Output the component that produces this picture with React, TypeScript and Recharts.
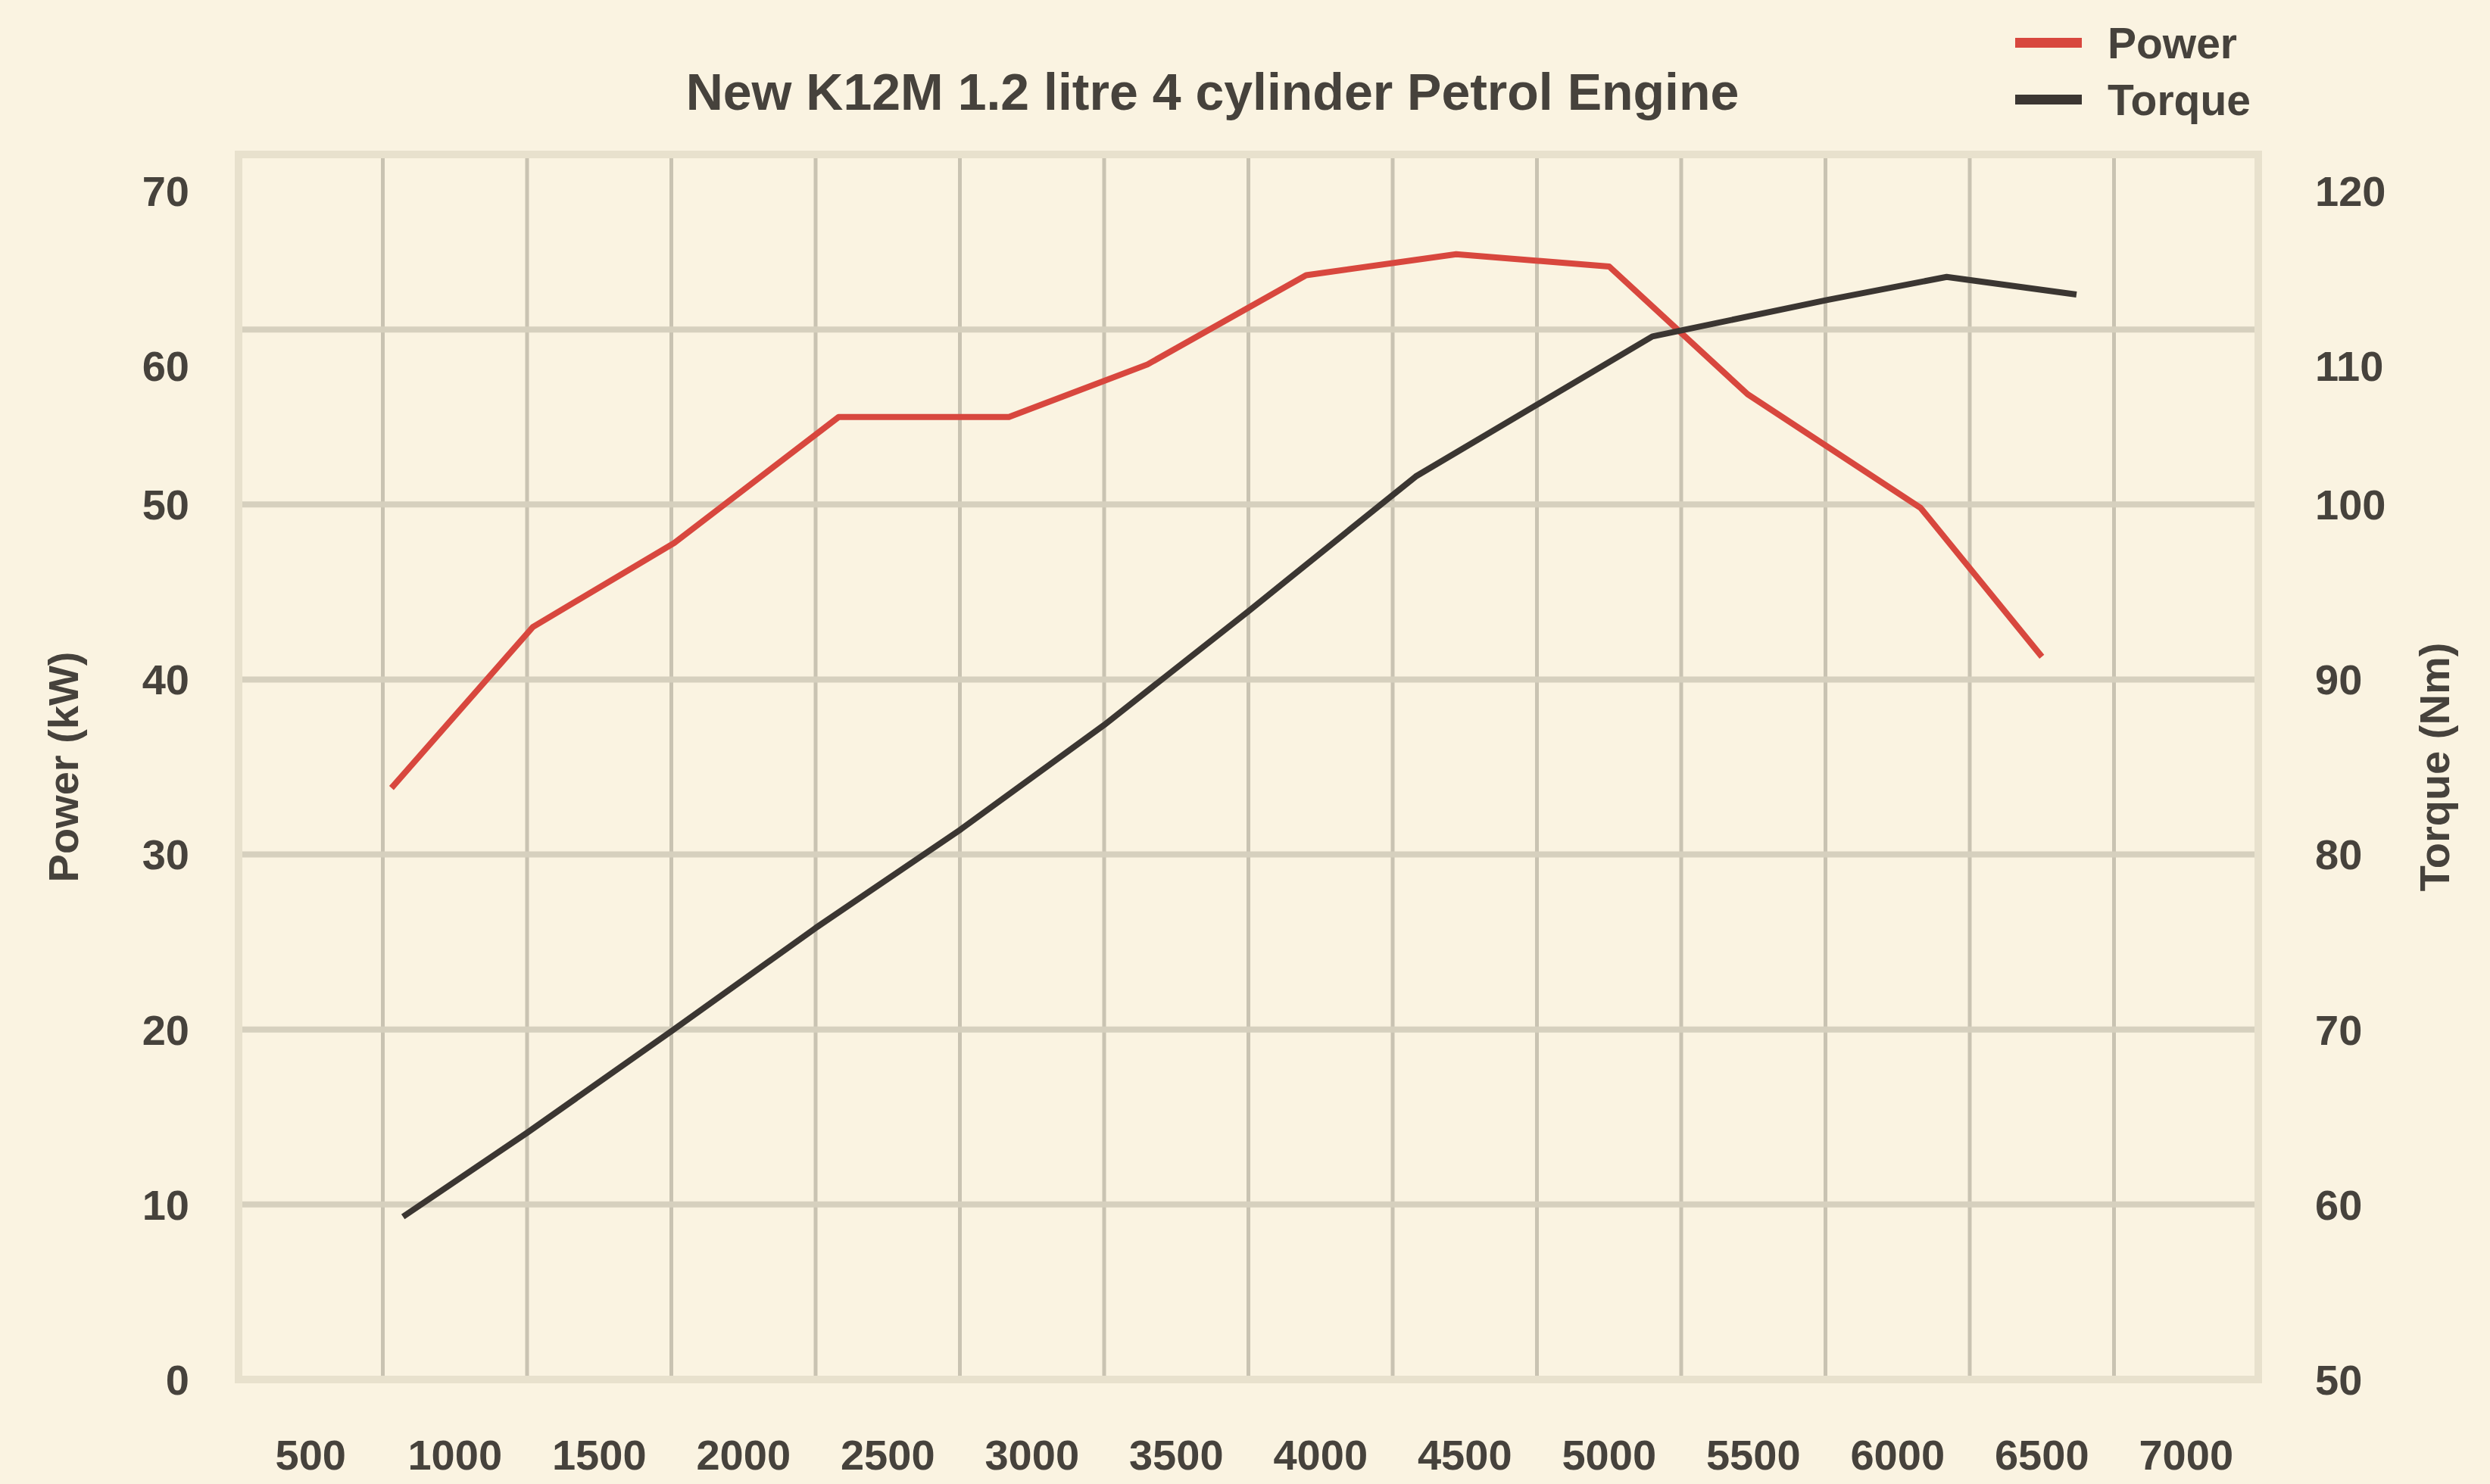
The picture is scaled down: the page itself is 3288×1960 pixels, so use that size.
import {
  CartesianGrid,
  Legend,
  Line,
  LineChart,
  ReferenceArea,
  XAxis,
  YAxis,
} from "recharts";

// values (rpm / kW, rpm / Nm)
const powerRpm = [780, 1270, 1760, 2330, 2920, 3400, 3950, 4470, 5000, 5480, 6080, 6500];
const powerKw = [33.8, 43.0, 47.8, 55.0, 55.0, 58.0, 63.1, 64.3, 63.6, 56.3, 49.8, 41.3];

const torqueRpm = [820, 1250, 1750, 2250, 2750, 3250, 3750, 4330, 5150, 5760, 6170, 6620];
const torqueNm = [59.3, 64.1, 69.9, 75.8, 81.4, 87.4, 93.9, 101.6, 109.6, 111.7, 113.0, 112.0];

const rpmTicks = [500, 1000, 1500, 2000, 2500, 3000, 3500, 4000, 4500, 5000, 5500, 6000, 6500, 7000];
const rpmGridLines = [750, 1250, 1750, 2250, 2750, 3250, 3750, 4250, 4750, 5250, 5750, 6250, 6750];
const powerTicks = [0, 10, 20, 30, 40, 50, 60, 70];
const torqueTicks = [50, 60, 70, 80, 90, 100, 110, 120];

// the top two labels on each side sit a bit below their grid line in the original
const powerLifted = [60, 70];
const torqueLifted = [110, 120];

const powerData = powerRpm.map((rpm, i) => ({ rpm, power: powerKw[i] }));
const torqueData = torqueRpm.map((rpm, i) => ({ rpm, torque: torqueNm[i] }));

const FONT = "'Liberation Sans', Arial, sans-serif";
const TEXT = "#46423c";
const BG = "#faf3e1";

function YTick({ x, y, payload, textAnchor, shifted }: any) {
  const dy = shifted.includes(payload.value) ? 48 : 0;
  return (
    <text
      x={x}
      y={y + dy}
      dy="0.355em"
      textAnchor={textAnchor}
      fill={TEXT}
      fontSize={56}
      fontWeight="bold"
      fontFamily={FONT}
    >
      {payload.value}
    </text>
  );
}

function LegendBox({ payload }: any) {
  return (
    <div style={{ fontFamily: FONT }}>
      {(payload || []).map((entry: any) => (
        <div
          key={entry.value}
          style={{ display: "flex", alignItems: "center", height: 75 }}
        >
          <span
            style={{
              width: 88,
              height: 13,
              background: entry.color,
              marginRight: 34,
              display: "inline-block",
            }}
          />
          <span style={{ fontSize: 57, fontWeight: "bold", color: TEXT }}>
            {entry.value}
          </span>
        </div>
      ))}
    </div>
  );
}

export default function App() {
  return (
    <div
      style={{
        position: "absolute",
        left: 0,
        top: 0,
        width: 3288,
        height: 1960,
        background: BG,
      }}
    >
      <div
        style={{
          position: "absolute",
          left: 1601,
          top: 87,
          transform: "translateX(-50%)",
          whiteSpace: "nowrap",
          fontFamily: FONT,
          fontWeight: "bold",
          fontSize: 68,
          lineHeight: 1,
          color: TEXT,
        }}
      >
        New K12M 1.2 litre 4 cylinder Petrol Engine
      </div>
      <LineChart
        width={3288}
        height={1960}
        margin={{ top: 204, right: 0, bottom: 0, left: 0 }}
      >
        <XAxis
          xAxisId="rpm"
          dataKey="rpm"
          type="number"
          domain={[250, 7250]}
          ticks={rpmTicks}
          allowDataOverflow
          axisLine={false}
          tickLine={false}
          tickSize={0}
          tickMargin={49}
          height={138}
          tick={{ fill: TEXT, fontSize: 56, fontWeight: "bold", fontFamily: FONT }}
        />
        <XAxis
          xAxisId="grid"
          dataKey="rpm"
          type="number"
          domain={[250, 7250]}
          ticks={rpmGridLines}
          allowDataOverflow
          hide
        />
        <YAxis
          yAxisId="power"
          domain={[0, 70]}
          ticks={powerTicks}
          allowDataOverflow
          width={315}
          axisLine={false}
          tickLine={false}
          tickSize={0}
          tickMargin={65}
          tick={(p: any) => <YTick {...p} shifted={powerLifted} />}
          label={{
            value: "Power (kW)",
            angle: -90,
            position: "insideLeft",
            offset: 83,
            style: {
              textAnchor: "middle",
              fill: TEXT,
              fontSize: 56,
              fontWeight: "bold",
              fontFamily: FONT,
            },
          }}
        />
        <YAxis
          yAxisId="torque"
          orientation="right"
          domain={[50, 120]}
          ticks={torqueTicks}
          allowDataOverflow
          width={306}
          axisLine={false}
          tickLine={false}
          tickSize={0}
          tickMargin={75}
          tick={(p: any) => <YTick {...p} shifted={torqueLifted} />}
          label={{
            value: "Torque (Nm)",
            angle: -90,
            position: "insideRight",
            offset: 74,
            style: {
              textAnchor: "middle",
              fill: TEXT,
              fontSize: 56,
              fontWeight: "bold",
              fontFamily: FONT,
            },
          }}
        />
        <CartesianGrid
          xAxisId="grid"
          yAxisId="power"
          horizontal={false}
          stroke="#c9c3b2"
          strokeWidth={5}
        />
        <CartesianGrid
          xAxisId="grid"
          yAxisId="power"
          vertical={false}
          stroke="#d6d0be"
          strokeWidth={8}
        />
        <ReferenceArea
          xAxisId="rpm"
          yAxisId="power"
          x1={250}
          x2={7250}
          y1={0}
          y2={70}
          fill="none"
          stroke="#e8e1cd"
          strokeWidth={10}
        />
        <Legend
          layout="vertical"
          align="center"
          verticalAlign="middle"
          wrapperStyle={{ left: 2661, top: 19 }}
          content={<LegendBox />}
        />
        <Line
          xAxisId="rpm"
          yAxisId="power"
          data={powerData}
          dataKey="power"
          name="Power"
          type="linear"
          stroke="#d8473e"
          strokeWidth={8}
          strokeLinejoin="round"
          dot={false}
          activeDot={false}
          isAnimationActive={false}
        />
        <Line
          xAxisId="rpm"
          yAxisId="torque"
          data={torqueData}
          dataKey="torque"
          name="Torque"
          type="linear"
          stroke="#3b3632"
          strokeWidth={8}
          strokeLinejoin="round"
          dot={false}
          activeDot={false}
          isAnimationActive={false}
        />
      </LineChart>
    </div>
  );
}
